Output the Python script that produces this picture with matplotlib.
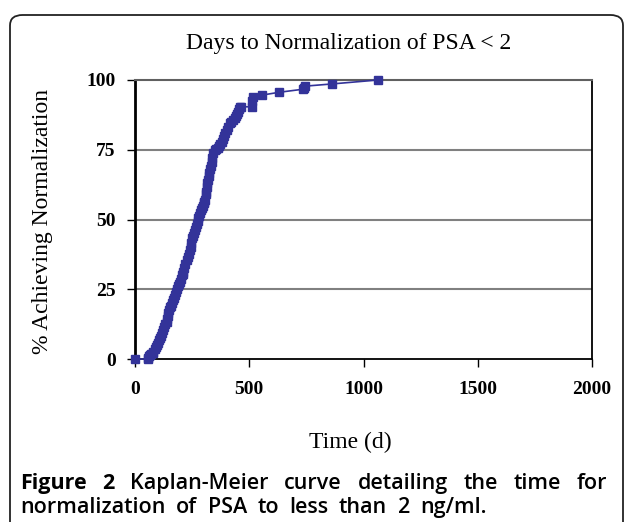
import matplotlib.pyplot as plt
from matplotlib.patches import FancyBboxPatch
from matplotlib.font_manager import FontProperties

# Kaplan-Meier vertices (days, % achieving normalization)
days = [0, 55, 58, 62, 66, 72, 78, 80, 86, 92,
        95, 100, 105, 109, 114, 119, 124, 129, 133, 138,
        141, 144, 146, 150, 154, 157, 160, 165, 170, 175,
        180, 185, 189, 193, 197, 201, 205, 208, 211, 216,
        221, 226, 230, 235, 240, 244, 247, 251, 255, 259,
        262, 266, 270, 274, 277, 281, 285, 289, 292, 296,
        300, 303, 306, 309, 311, 313, 316, 319, 322, 325,
        328, 332, 336, 339, 342, 348, 356, 364, 369, 374,
        379, 384, 389, 394, 401, 408, 415, 422, 430, 437,
        442, 447, 452, 456, 459, 466, 510, 513, 517,
        557, 631, 736, 741, 745, 864, 1063]
pct = [0, 0, 0.5, 1.0, 1.4, 1.8, 2.3, 2.6, 3.5, 4.3,
       5.0, 5.8, 6.7, 7.4, 8.4, 9.4, 10.4, 11.4, 12.4, 13.4,
       14.4, 15.4, 16.4, 17.5, 18.7, 19.0, 20.0, 21.0, 22.0, 23.0,
       24.0, 25.0, 26.0, 27.0, 27.7, 28.8, 30.0, 30.6, 31.3, 32.7,
       34.1, 35.5, 36.6, 37.8, 39.0, 40.2, 41.5, 43.3, 44.2, 45.2,
       46.2, 47.3, 48.4, 49.5, 50.4, 51.4, 52.4, 53.4, 54.0, 55.0,
       56.0, 56.4, 57.0, 59.0, 60.0, 61.5, 63.0, 64.2, 65.5, 66.8,
       68.0, 69.3, 70.5, 72.0, 73.7, 74.8, 75.2, 75.5, 76.3, 77.1,
       77.9, 78.9, 79.9, 80.9, 82.1, 83.3, 84.5, 85.0, 85.7, 86.3,
       87.0, 87.8, 88.6, 89.5, 90.4, 90.4, 90.4, 92.5, 94.0,
       94.6, 95.6, 96.7, 97.3, 97.8, 98.6, 100]

x_ticks = [0, 500, 1000, 1500, 2000]
y_ticks = [0, 25, 50, 75, 100]

W, H = 625, 522
fig = plt.figure(figsize=(W / 100, H / 100), dpi=100)
renderer = fig.canvas.get_renderer()

# outer rounded frame
frame = FancyBboxPatch((10 / W, -0.05), 613 / W, 1 - 15 / H + 0.05,
                       boxstyle="round,pad=0,rounding_size=0.02",
                       transform=fig.transFigure, fill=False,
                       edgecolor='#222222', linewidth=1.3)
fig.patches.append(frame)

ax = fig.add_axes([135 / W, 1 - 359 / H, (592 - 135) / W, (359 - 80) / H])
ax.set_xlim(0, 2000)
ax.set_ylim(0, 100)

for y in [25, 50, 75]:
    ax.axhline(y, color='#808080', linewidth=1.5, zorder=1)

ax.plot(days, pct, color='#333399', linewidth=1.2, marker='s',
        markersize=6, clip_on=False, zorder=3)

ax.spines['left'].set_linewidth(2)
ax.spines['bottom'].set_linewidth(1.3)
ax.spines['right'].set_linewidth(1.3)
ax.spines['top'].set_linewidth(1.5)
ax.spines['top'].set_color('#606060')

serif = 'Liberation Serif'
ax.set_xticks(x_ticks)
ax.set_yticks(y_ticks)
ax.set_xticklabels([str(v) for v in x_ticks], fontsize=14, fontweight='bold', family=serif)
ax.set_yticklabels([str(v) for v in y_ticks], fontsize=14, fontweight='bold', family=serif)
ax.tick_params(direction='out', length=6, width=1, pad=10)
ax.tick_params(axis='y', pad=8)

fig.text(349 / W, 1 - 44 / H, 'Days to Normalization of PSA < 2', ha='center', va='center',
         fontsize=17, family=serif)
fig.text(350 / W, 1 - 442 / H, 'Time (d)', ha='center', va='center', fontsize=17, family=serif)
fig.text(43 / W, 1 - 222 / H, '% Achieving Normalization', ha='center', va='center',
         rotation=90, fontsize=17, family=serif)


# justified caption: words placed one by one with even gaps
def text_w(s, fp):
    t = fig.text(0, 0, s, fontproperties=fp)
    w = t.get_window_extent(renderer).width
    t.remove()
    return w


def justify(words, fps, x0, x1, y):
    ww = [text_w(w, fp) for w, fp in zip(words, fps)]
    gap = (x1 - x0 - sum(ww)) / (len(words) - 1)
    x = x0
    for w, fp, wd in zip(words, fps, ww):
        fig.text(x / W, 1 - y / H, w, fontproperties=fp, ha='left', va='baseline')
        x += wd + gap


fp_bold = FontProperties(family='Open Sans', weight='bold', size=15.5)
fp_semi = FontProperties(family='Open Sans', weight='semibold', size=15.5)

words1 = ['Figure', '2', 'Kaplan-Meier', 'curve', 'detailing', 'the', 'time', 'for']
justify(words1, [fp_bold, fp_bold] + [fp_semi] * 6, 20, 607, 489)
words2 = 'normalization of PSA to less than 2 ng/ml.'.split()
justify(words2, [fp_semi] * len(words2), 20, 487, 513)

fig.savefig('out.png', dpi=100)
